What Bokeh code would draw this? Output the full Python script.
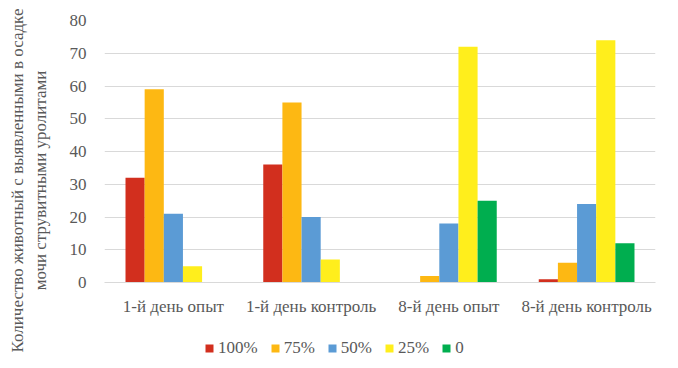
import math
from bokeh.plotting import figure
from bokeh.layouts import row, column
from bokeh.models import FactorRange, Range1d, Legend, LegendItem, ColumnDataSource, SingleIntervalTicker
from bokeh.core.properties import value
from bokeh.transform import dodge
from bokeh.embed import file_html
from bokeh.resources import INLINE

categories = ["1-й день опыт", "1-й день контроль", "8-й день опыт", "8-й день контроль"]
series_names = ["100%", "75%", "50%", "25%", "0"]
s100 = [32, 36, 0, 1]
s75 = [59, 55, 2, 6]
s50 = [21, 20, 18, 24]
s25 = [5, 7, 72, 74]
s0 = [0, 0, 25, 12]
colors = ["#D22F1E", "#FDB813", "#5B9BD5", "#FFEE1C", "#00AE4F"]
y_title_lines = ["Количество животный с выявленными в осадке", "мочи струвитными уролитами"]

FONT = "Liberation Serif"
FS = "17px"
TXT = "#595959"

TW = 56  # width of the title strip
W, H = 678, 368
MAIN_H = 320

# ---- y-axis title strip
tf = figure(width=TW, height=H, x_range=Range1d(0, TW), y_range=Range1d(0, H),
            output_backend="svg", toolbar_location=None, min_border=0)
tf.axis.visible = False
tf.grid.visible = False
tf.outline_line_color = None
tf.text(x=[17, 40], y=[H - 180, H - 180], text=y_title_lines, angle=math.pi / 2,
        text_align="center", text_baseline="middle", text_font=value(FONT),
        text_font_size=FS, text_color=TXT)

# ---- main chart
src = ColumnDataSource(dict(cat=categories, s100=s100, s75=s75, s50=s50, s25=s25, s0=s0))
p = figure(x_range=FactorRange(*categories), y_range=Range1d(0, 80),
           width=W - TW, height=MAIN_H, output_backend="svg", toolbar_location=None,
           min_border_left=48, min_border_right=23, min_border_top=20, min_border_bottom=38)
p.outline_line_color = None

bw = 0.139
keys = ["s100", "s75", "s50", "s25", "s0"]
for i, (k, c) in enumerate(zip(keys, colors)):
    p.vbar(x=dodge("cat", (i - 2) * bw, range=p.x_range), top=k, width=bw, source=src,
           fill_color=c, line_color=None)

p.xgrid.grid_line_color = None
p.ygrid.grid_line_color = "#D9D9D9"
p.yaxis.ticker = SingleIntervalTicker(interval=10)
for ax in (p.xaxis[0], p.yaxis[0]):
    ax.axis_line_color = None
    ax.major_tick_line_color = None
    ax.minor_tick_line_color = None
    ax.major_label_text_font = FONT
    ax.major_label_text_font_size = FS
    ax.major_label_text_color = TXT
p.xaxis.major_label_standoff = 8
p.yaxis.major_label_standoff = 12
p.xaxis.axis_line_color = "#D9D9D9"

# ---- legend strip
lf = figure(width=W - TW, height=H - MAIN_H, x_range=Range1d(0, 1), y_range=Range1d(0, 1),
            output_backend="svg", toolbar_location=None, min_border=0)
lf.axis.visible = False
lf.grid.visible = False
lf.outline_line_color = None
items = []
for n, c in zip(series_names, colors):
    r = lf.vbar(x=[-50], top=[-40], bottom=[-50], width=0.1, fill_color=c, line_color=None)
    items.append(LegendItem(label=n, renderers=[r]))
legend = Legend(items=items, orientation="horizontal", location=(100, 10),
                label_text_font=FONT, label_text_font_size=FS, label_text_color=TXT,
                glyph_width=10, glyph_height=10, label_standoff=4, spacing=12,
                border_line_color=None, background_fill_alpha=0, padding=0, margin=0,
                label_height=17)
lf.add_layout(legend, "center")

layout = row(tf, column(p, lf, spacing=0), spacing=0)
open("out.html", "w").write(file_html(layout, INLINE))
